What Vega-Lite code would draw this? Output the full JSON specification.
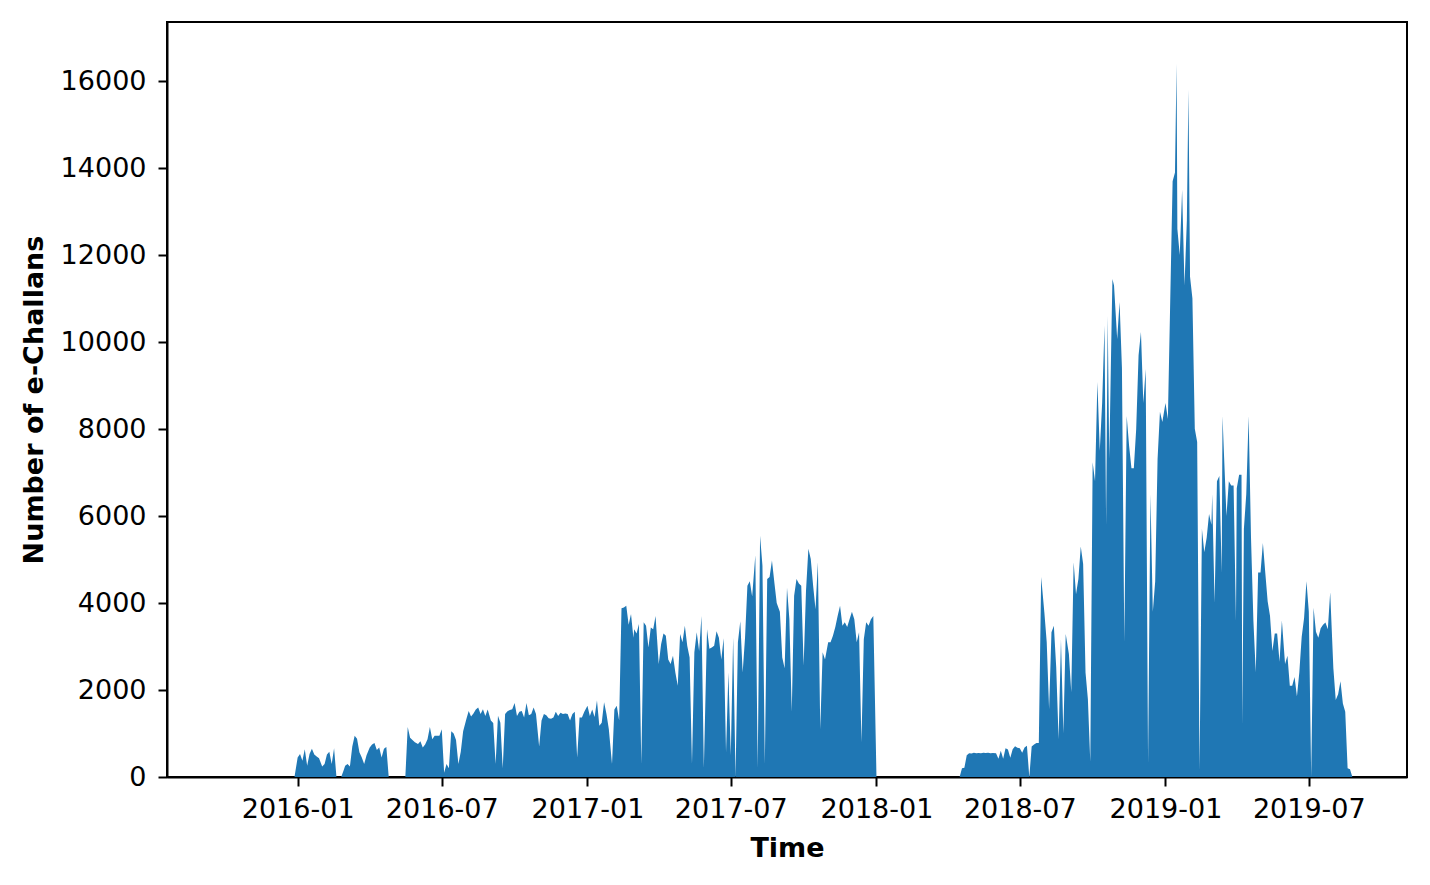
{
  "$schema": "https://vega.github.io/schema/vega-lite/v6.json",
  "autosize": {"type": "none"},
  "width": 1240,
  "height": 755,
  "padding": {"left": 167, "top": 22, "right": 23, "bottom": 108},
  "background": "white",
  "config": {
    "font": "DejaVu Sans",
    "view": {"stroke": "black", "strokeWidth": 2},
    "axis": {
      "domainColor": "black", "domainWidth": 2,
      "tickColor": "black", "tickWidth": 2, "tickSize": 9,
      "labelFontSize": 27, "labelColor": "black", "labelPadding": 10,
      "titleFontSize": 27, "titleFontWeight": "bold", "titleColor": "black",
      "grid": false
    }
  },
  "data": {"values": [
    {"date": "2015-10-01", "count": 0},
    {"date": "2015-12-28", "count": 0},
    {"date": "2016-01-01", "count": 450}, {"date": "2016-01-04", "count": 530}, {"date": "2016-01-07", "count": 375}, {"date": "2016-01-10", "count": 640}, {"date": "2016-01-13", "count": 260}, {"date": "2016-01-16", "count": 530}, {"date": "2016-01-19", "count": 650}, {"date": "2016-01-22", "count": 520}, {"date": "2016-01-25", "count": 470}, {"date": "2016-01-28", "count": 430},
    {"date": "2016-02-01", "count": 240}, {"date": "2016-02-04", "count": 300}, {"date": "2016-02-07", "count": 520}, {"date": "2016-02-10", "count": 580}, {"date": "2016-02-13", "count": 300}, {"date": "2016-02-16", "count": 660}, {"date": "2016-02-19", "count": 0}, {"date": "2016-02-25", "count": 0}, {"date": "2016-02-28", "count": 150},
    {"date": "2016-03-01", "count": 260}, {"date": "2016-03-04", "count": 300}, {"date": "2016-03-07", "count": 240}, {"date": "2016-03-10", "count": 700}, {"date": "2016-03-13", "count": 950}, {"date": "2016-03-16", "count": 880}, {"date": "2016-03-19", "count": 570}, {"date": "2016-03-22", "count": 450}, {"date": "2016-03-25", "count": 300}, {"date": "2016-03-28", "count": 500},
    {"date": "2016-04-01", "count": 680}, {"date": "2016-04-04", "count": 750}, {"date": "2016-04-07", "count": 780}, {"date": "2016-04-10", "count": 620}, {"date": "2016-04-13", "count": 680}, {"date": "2016-04-16", "count": 450}, {"date": "2016-04-19", "count": 650}, {"date": "2016-04-22", "count": 690}, {"date": "2016-04-25", "count": 0},
    {"date": "2016-05-16", "count": 0}, {"date": "2016-05-19", "count": 1150}, {"date": "2016-05-22", "count": 900}, {"date": "2016-05-25", "count": 850}, {"date": "2016-05-28", "count": 800},
    {"date": "2016-06-01", "count": 760}, {"date": "2016-06-04", "count": 820}, {"date": "2016-06-07", "count": 680}, {"date": "2016-06-10", "count": 750}, {"date": "2016-06-13", "count": 870}, {"date": "2016-06-16", "count": 1150}, {"date": "2016-06-19", "count": 870}, {"date": "2016-06-22", "count": 950}, {"date": "2016-06-25", "count": 950}, {"date": "2016-06-28", "count": 950},
    {"date": "2016-07-01", "count": 1100}, {"date": "2016-07-04", "count": 100}, {"date": "2016-07-07", "count": 300}, {"date": "2016-07-10", "count": 200}, {"date": "2016-07-13", "count": 1050}, {"date": "2016-07-16", "count": 1000}, {"date": "2016-07-19", "count": 850}, {"date": "2016-07-22", "count": 300}, {"date": "2016-07-25", "count": 580}, {"date": "2016-07-28", "count": 1050},
    {"date": "2016-08-01", "count": 1330}, {"date": "2016-08-04", "count": 1520}, {"date": "2016-08-07", "count": 1390}, {"date": "2016-08-10", "count": 1460}, {"date": "2016-08-13", "count": 1550}, {"date": "2016-08-16", "count": 1600}, {"date": "2016-08-19", "count": 1450}, {"date": "2016-08-22", "count": 1560}, {"date": "2016-08-25", "count": 1400}, {"date": "2016-08-28", "count": 1550},
    {"date": "2016-09-01", "count": 1300}, {"date": "2016-09-04", "count": 1240}, {"date": "2016-09-07", "count": 300}, {"date": "2016-09-10", "count": 1410}, {"date": "2016-09-13", "count": 1250}, {"date": "2016-09-16", "count": 200}, {"date": "2016-09-19", "count": 1450}, {"date": "2016-09-22", "count": 1510}, {"date": "2016-09-25", "count": 1540}, {"date": "2016-09-28", "count": 1560},
    {"date": "2016-10-01", "count": 1700}, {"date": "2016-10-04", "count": 1400}, {"date": "2016-10-07", "count": 1500}, {"date": "2016-10-10", "count": 1520}, {"date": "2016-10-13", "count": 1370}, {"date": "2016-10-16", "count": 1700}, {"date": "2016-10-19", "count": 1420}, {"date": "2016-10-22", "count": 1450}, {"date": "2016-10-25", "count": 1600}, {"date": "2016-10-28", "count": 1450},
    {"date": "2016-11-01", "count": 700}, {"date": "2016-11-04", "count": 1300}, {"date": "2016-11-07", "count": 1450}, {"date": "2016-11-10", "count": 1420}, {"date": "2016-11-13", "count": 1350}, {"date": "2016-11-16", "count": 1340}, {"date": "2016-11-19", "count": 1370}, {"date": "2016-11-22", "count": 1500}, {"date": "2016-11-25", "count": 1400}, {"date": "2016-11-28", "count": 1480},
    {"date": "2016-12-01", "count": 1450}, {"date": "2016-12-04", "count": 1460}, {"date": "2016-12-07", "count": 1450}, {"date": "2016-12-10", "count": 1300}, {"date": "2016-12-13", "count": 1450}, {"date": "2016-12-16", "count": 1500}, {"date": "2016-12-19", "count": 450}, {"date": "2016-12-22", "count": 1370}, {"date": "2016-12-25", "count": 1370}, {"date": "2016-12-28", "count": 1500},
    {"date": "2017-01-01", "count": 1640}, {"date": "2017-01-04", "count": 1400}, {"date": "2017-01-07", "count": 1550}, {"date": "2017-01-10", "count": 1380}, {"date": "2017-01-13", "count": 1760}, {"date": "2017-01-16", "count": 1180}, {"date": "2017-01-19", "count": 1250}, {"date": "2017-01-22", "count": 1720}, {"date": "2017-01-25", "count": 1450}, {"date": "2017-01-28", "count": 1100},
    {"date": "2017-02-01", "count": 300}, {"date": "2017-02-04", "count": 1550}, {"date": "2017-02-07", "count": 1640}, {"date": "2017-02-10", "count": 1300}, {"date": "2017-02-13", "count": 3880}, {"date": "2017-02-16", "count": 3900}, {"date": "2017-02-19", "count": 3940}, {"date": "2017-02-22", "count": 3500}, {"date": "2017-02-25", "count": 3750}, {"date": "2017-02-28", "count": 3200},
    {"date": "2017-03-01", "count": 3400}, {"date": "2017-03-04", "count": 3300}, {"date": "2017-03-07", "count": 3520}, {"date": "2017-03-10", "count": 300}, {"date": "2017-03-13", "count": 3560}, {"date": "2017-03-16", "count": 3480}, {"date": "2017-03-19", "count": 2980}, {"date": "2017-03-22", "count": 3440}, {"date": "2017-03-25", "count": 3400}, {"date": "2017-03-28", "count": 3700},
    {"date": "2017-04-01", "count": 2600}, {"date": "2017-04-04", "count": 3050}, {"date": "2017-04-07", "count": 3300}, {"date": "2017-04-10", "count": 3250}, {"date": "2017-04-13", "count": 2700}, {"date": "2017-04-16", "count": 2600}, {"date": "2017-04-19", "count": 2790}, {"date": "2017-04-22", "count": 2400}, {"date": "2017-04-25", "count": 2100}, {"date": "2017-04-28", "count": 3290},
    {"date": "2017-05-01", "count": 3100}, {"date": "2017-05-04", "count": 3480}, {"date": "2017-05-07", "count": 3020}, {"date": "2017-05-10", "count": 2750}, {"date": "2017-05-13", "count": 300}, {"date": "2017-05-16", "count": 2870}, {"date": "2017-05-19", "count": 3330}, {"date": "2017-05-22", "count": 2900}, {"date": "2017-05-25", "count": 3700}, {"date": "2017-05-28", "count": 200},
    {"date": "2017-06-01", "count": 3400}, {"date": "2017-06-04", "count": 2950}, {"date": "2017-06-07", "count": 2980}, {"date": "2017-06-10", "count": 3020}, {"date": "2017-06-13", "count": 3350}, {"date": "2017-06-16", "count": 3200}, {"date": "2017-06-19", "count": 2700}, {"date": "2017-06-22", "count": 3190}, {"date": "2017-06-25", "count": 570}, {"date": "2017-06-28", "count": 2400},
    {"date": "2017-07-01", "count": 500}, {"date": "2017-07-04", "count": 3210}, {"date": "2017-07-07", "count": 0}, {"date": "2017-07-10", "count": 3100}, {"date": "2017-07-13", "count": 3580}, {"date": "2017-07-16", "count": 2400}, {"date": "2017-07-19", "count": 3200}, {"date": "2017-07-22", "count": 4400}, {"date": "2017-07-25", "count": 4500}, {"date": "2017-07-28", "count": 4150},
    {"date": "2017-08-01", "count": 5100}, {"date": "2017-08-04", "count": 200}, {"date": "2017-08-07", "count": 5550}, {"date": "2017-08-10", "count": 4860}, {"date": "2017-08-13", "count": 300}, {"date": "2017-08-16", "count": 4550}, {"date": "2017-08-19", "count": 4600}, {"date": "2017-08-22", "count": 4980}, {"date": "2017-08-25", "count": 4480}, {"date": "2017-08-28", "count": 4000},
    {"date": "2017-09-01", "count": 3800}, {"date": "2017-09-04", "count": 2750}, {"date": "2017-09-07", "count": 2500}, {"date": "2017-09-10", "count": 4350}, {"date": "2017-09-13", "count": 3630}, {"date": "2017-09-16", "count": 1500}, {"date": "2017-09-19", "count": 4170}, {"date": "2017-09-22", "count": 4550}, {"date": "2017-09-25", "count": 4450}, {"date": "2017-09-28", "count": 4400},
    {"date": "2017-10-01", "count": 2560}, {"date": "2017-10-04", "count": 4280}, {"date": "2017-10-07", "count": 5250}, {"date": "2017-10-10", "count": 5010}, {"date": "2017-10-13", "count": 4400}, {"date": "2017-10-16", "count": 3860}, {"date": "2017-10-19", "count": 4940}, {"date": "2017-10-22", "count": 1100}, {"date": "2017-10-25", "count": 2870}, {"date": "2017-10-28", "count": 2700},
    {"date": "2017-11-01", "count": 3100}, {"date": "2017-11-04", "count": 3100}, {"date": "2017-11-07", "count": 3250}, {"date": "2017-11-10", "count": 3450}, {"date": "2017-11-13", "count": 3710}, {"date": "2017-11-16", "count": 3940}, {"date": "2017-11-19", "count": 3480}, {"date": "2017-11-22", "count": 3560}, {"date": "2017-11-25", "count": 3450}, {"date": "2017-11-28", "count": 3630},
    {"date": "2017-12-01", "count": 3800}, {"date": "2017-12-04", "count": 3630}, {"date": "2017-12-07", "count": 3100}, {"date": "2017-12-10", "count": 3330}, {"date": "2017-12-13", "count": 800}, {"date": "2017-12-16", "count": 3170}, {"date": "2017-12-19", "count": 3560}, {"date": "2017-12-22", "count": 3480}, {"date": "2017-12-25", "count": 3630}, {"date": "2017-12-28", "count": 3700},
    {"date": "2018-01-01", "count": 0},
    {"date": "2018-04-16", "count": 0}, {"date": "2018-04-19", "count": 200}, {"date": "2018-04-22", "count": 210}, {"date": "2018-04-25", "count": 500}, {"date": "2018-04-28", "count": 545},
    {"date": "2018-05-01", "count": 540}, {"date": "2018-05-04", "count": 560}, {"date": "2018-05-07", "count": 545}, {"date": "2018-05-10", "count": 550}, {"date": "2018-05-13", "count": 545}, {"date": "2018-05-16", "count": 555}, {"date": "2018-05-19", "count": 550}, {"date": "2018-05-22", "count": 560}, {"date": "2018-05-25", "count": 545}, {"date": "2018-05-28", "count": 550},
    {"date": "2018-06-01", "count": 545}, {"date": "2018-06-04", "count": 420}, {"date": "2018-06-07", "count": 605}, {"date": "2018-06-10", "count": 420}, {"date": "2018-06-13", "count": 660}, {"date": "2018-06-16", "count": 630}, {"date": "2018-06-19", "count": 440}, {"date": "2018-06-22", "count": 640}, {"date": "2018-06-25", "count": 705}, {"date": "2018-06-28", "count": 670},
    {"date": "2018-07-01", "count": 660}, {"date": "2018-07-04", "count": 560}, {"date": "2018-07-07", "count": 680}, {"date": "2018-07-10", "count": 720}, {"date": "2018-07-13", "count": 0}, {"date": "2018-07-16", "count": 700}, {"date": "2018-07-19", "count": 750}, {"date": "2018-07-22", "count": 780}, {"date": "2018-07-25", "count": 780}, {"date": "2018-07-28", "count": 4600},
    {"date": "2018-08-01", "count": 3790}, {"date": "2018-08-04", "count": 3100}, {"date": "2018-08-07", "count": 1560}, {"date": "2018-08-10", "count": 3330}, {"date": "2018-08-13", "count": 3480}, {"date": "2018-08-16", "count": 2520}, {"date": "2018-08-19", "count": 870}, {"date": "2018-08-22", "count": 3170}, {"date": "2018-08-25", "count": 1000}, {"date": "2018-08-28", "count": 3290},
    {"date": "2018-09-01", "count": 2830}, {"date": "2018-09-04", "count": 1950}, {"date": "2018-09-07", "count": 4940}, {"date": "2018-09-10", "count": 4200}, {"date": "2018-09-13", "count": 4550}, {"date": "2018-09-16", "count": 5300}, {"date": "2018-09-19", "count": 4900}, {"date": "2018-09-22", "count": 2400}, {"date": "2018-09-25", "count": 1790}, {"date": "2018-09-28", "count": 350},
    {"date": "2018-10-01", "count": 7240}, {"date": "2018-10-04", "count": 6800}, {"date": "2018-10-07", "count": 9080}, {"date": "2018-10-10", "count": 7500}, {"date": "2018-10-13", "count": 8600}, {"date": "2018-10-16", "count": 10380}, {"date": "2018-10-18", "count": 5800}, {"date": "2018-10-20", "count": 10600}, {"date": "2018-10-22", "count": 7310}, {"date": "2018-10-25", "count": 10500}, {"date": "2018-10-26", "count": 11450}, {"date": "2018-10-28", "count": 11300},
    {"date": "2018-11-01", "count": 10070}, {"date": "2018-11-04", "count": 10920}, {"date": "2018-11-07", "count": 9400}, {"date": "2018-11-10", "count": 3100}, {"date": "2018-11-13", "count": 8300}, {"date": "2018-11-16", "count": 7620}, {"date": "2018-11-19", "count": 7100}, {"date": "2018-11-22", "count": 7100}, {"date": "2018-11-25", "count": 8000}, {"date": "2018-11-28", "count": 9700},
    {"date": "2018-12-01", "count": 10230}, {"date": "2018-12-04", "count": 8600}, {"date": "2018-12-07", "count": 9380}, {"date": "2018-12-10", "count": 300}, {"date": "2018-12-13", "count": 6500}, {"date": "2018-12-16", "count": 3800}, {"date": "2018-12-19", "count": 4500}, {"date": "2018-12-22", "count": 7310}, {"date": "2018-12-25", "count": 8400}, {"date": "2018-12-28", "count": 8160},
    {"date": "2019-01-01", "count": 8600}, {"date": "2019-01-04", "count": 8230}, {"date": "2019-01-07", "count": 10970}, {"date": "2019-01-10", "count": 13700}, {"date": "2019-01-13", "count": 13900}, {"date": "2019-01-15", "count": 16400}, {"date": "2019-01-16", "count": 12600}, {"date": "2019-01-19", "count": 12000}, {"date": "2019-01-22", "count": 13500}, {"date": "2019-01-25", "count": 11300}, {"date": "2019-01-28", "count": 12800}, {"date": "2019-01-30", "count": 15800},
    {"date": "2019-02-01", "count": 11500}, {"date": "2019-02-04", "count": 11000}, {"date": "2019-02-07", "count": 8010}, {"date": "2019-02-10", "count": 7700}, {"date": "2019-02-13", "count": 150}, {"date": "2019-02-16", "count": 5700}, {"date": "2019-02-19", "count": 5170}, {"date": "2019-02-22", "count": 5500}, {"date": "2019-02-25", "count": 6050}, {"date": "2019-02-28", "count": 5800},
    {"date": "2019-03-01", "count": 6500}, {"date": "2019-03-04", "count": 4000}, {"date": "2019-03-07", "count": 6800}, {"date": "2019-03-10", "count": 6920}, {"date": "2019-03-13", "count": 4700}, {"date": "2019-03-14", "count": 8300}, {"date": "2019-03-16", "count": 7360}, {"date": "2019-03-19", "count": 6000}, {"date": "2019-03-22", "count": 6800}, {"date": "2019-03-25", "count": 6700}, {"date": "2019-03-28", "count": 6700}, {"date": "2019-03-31", "count": 3600},
    {"date": "2019-04-01", "count": 6640}, {"date": "2019-04-04", "count": 6950}, {"date": "2019-04-07", "count": 6950}, {"date": "2019-04-08", "count": 1200}, {"date": "2019-04-10", "count": 5700}, {"date": "2019-04-13", "count": 6500}, {"date": "2019-04-16", "count": 8300}, {"date": "2019-04-19", "count": 5500}, {"date": "2019-04-22", "count": 3600}, {"date": "2019-04-25", "count": 2400}, {"date": "2019-04-28", "count": 4700},
    {"date": "2019-05-01", "count": 4700}, {"date": "2019-05-04", "count": 5380}, {"date": "2019-05-07", "count": 4700}, {"date": "2019-05-10", "count": 4040}, {"date": "2019-05-13", "count": 3700}, {"date": "2019-05-16", "count": 2900}, {"date": "2019-05-19", "count": 3300}, {"date": "2019-05-22", "count": 3300}, {"date": "2019-05-25", "count": 2650}, {"date": "2019-05-28", "count": 3600},
    {"date": "2019-06-01", "count": 2600}, {"date": "2019-06-04", "count": 2790}, {"date": "2019-06-07", "count": 2100}, {"date": "2019-06-10", "count": 2100}, {"date": "2019-06-13", "count": 2300}, {"date": "2019-06-16", "count": 1850}, {"date": "2019-06-19", "count": 2400}, {"date": "2019-06-22", "count": 3220}, {"date": "2019-06-25", "count": 3650}, {"date": "2019-06-28", "count": 4500},
    {"date": "2019-07-01", "count": 3800}, {"date": "2019-07-04", "count": 0}, {"date": "2019-07-07", "count": 3890}, {"date": "2019-07-10", "count": 3340}, {"date": "2019-07-13", "count": 3200}, {"date": "2019-07-16", "count": 3420}, {"date": "2019-07-19", "count": 3500}, {"date": "2019-07-22", "count": 3550}, {"date": "2019-07-25", "count": 3400}, {"date": "2019-07-28", "count": 4250},
    {"date": "2019-08-01", "count": 2500}, {"date": "2019-08-04", "count": 1770}, {"date": "2019-08-07", "count": 1900}, {"date": "2019-08-10", "count": 2200}, {"date": "2019-08-13", "count": 1690}, {"date": "2019-08-16", "count": 1500}, {"date": "2019-08-19", "count": 200}, {"date": "2019-08-22", "count": 180}, {"date": "2019-08-25", "count": 0}
  ]},
  "mark": {"type": "area", "color": "#1f77b4", "interpolate": "linear", "clip": true},
  "encoding": {
    "x": {
      "field": "date", "type": "temporal", "title": "Time",
      "scale": {"type": "utc", "domain": [
        {"year": 2015, "month": 7, "date": 20, "utc": true},
        {"year": 2019, "month": 11, "date": 2, "utc": true}
      ]},
      "axis": {
        "format": "%Y-%m", "titlePadding": 13,
        "values": [
          {"year": 2016, "month": 1, "date": 1, "utc": true},
          {"year": 2016, "month": 7, "date": 1, "utc": true},
          {"year": 2017, "month": 1, "date": 1, "utc": true},
          {"year": 2017, "month": 7, "date": 1, "utc": true},
          {"year": 2018, "month": 1, "date": 1, "utc": true},
          {"year": 2018, "month": 7, "date": 1, "utc": true},
          {"year": 2019, "month": 1, "date": 1, "utc": true},
          {"year": 2019, "month": 7, "date": 1, "utc": true}
        ]
      }
    },
    "y": {
      "field": "count", "type": "quantitative", "title": "Number of e-Challans",
      "scale": {"domain": [0, 17360], "nice": false, "zero": true},
      "axis": {"values": [0, 2000, 4000, 6000, 8000, 10000, 12000, 14000, 16000], "format": "d", "labelPadding": 12, "titlePadding": 12}
    }
  }
}
